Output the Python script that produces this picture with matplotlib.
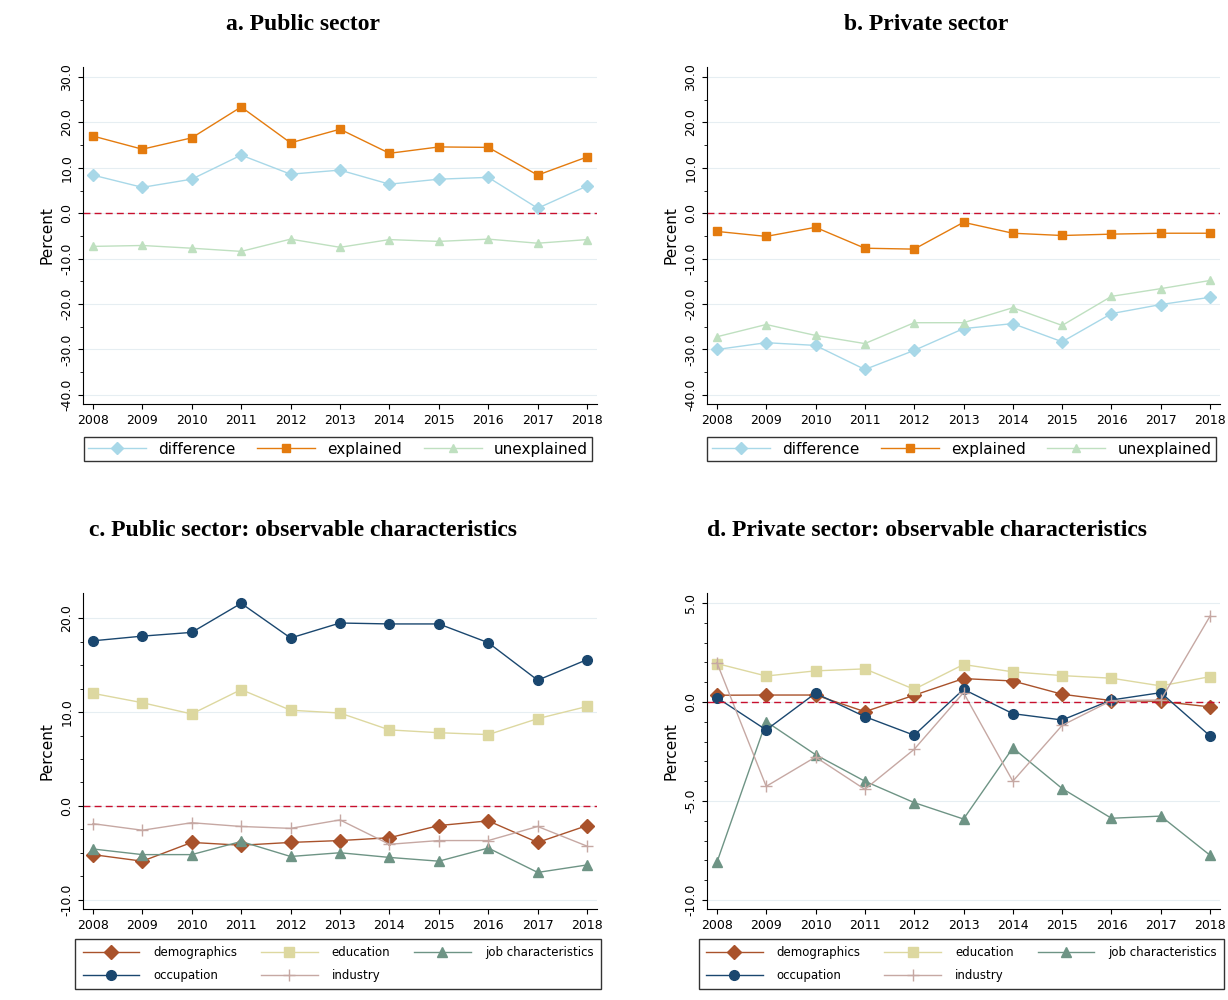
import matplotlib
matplotlib.use("Agg")
import matplotlib.pyplot as plt
import numpy as np

years = list(range(2008, 2019))

pub_difference = [8.4, 5.7, 7.5, 12.8, 8.6, 9.5, 6.4, 7.5, 7.9, 1.1, 6.0]
pub_explained = [17.0, 14.1, 16.6, 23.4, 15.5, 18.5, 13.2, 14.6, 14.5, 8.4, 12.4]
pub_unexplained = [-7.3, -7.1, -7.7, -8.4, -5.7, -7.5, -5.8, -6.2, -5.7, -6.6, -5.8]

priv_difference = [-30.0, -28.5, -29.1, -34.4, -30.2, -25.4, -24.3, -28.3, -22.1, -20.1, -18.5]
priv_explained = [-4.0, -5.1, -3.1, -7.7, -7.9, -2.0, -4.4, -4.9, -4.6, -4.4, -4.4]
priv_unexplained = [-27.2, -24.5, -26.9, -28.7, -24.1, -24.1, -20.8, -24.7, -18.3, -16.6, -14.8]

pubc_demographics = [-5.2, -5.9, -3.9, -4.2, -3.9, -3.7, -3.4, -2.1, -1.6, -3.9, -2.1]
pubc_education = [12.0, 11.0, 9.8, 12.4, 10.2, 9.9, 8.1, 7.8, 7.6, 9.3, 10.6]
pubc_job = [-4.6, -5.2, -5.2, -3.8, -5.4, -5.0, -5.5, -5.9, -4.5, -7.1, -6.3]
pubc_occupation = [17.6, 18.1, 18.5, 21.6, 17.9, 19.5, 19.4, 19.4, 17.4, 13.4, 15.6]
pubc_industry = [-1.9, -2.6, -1.8, -2.2, -2.4, -1.5, -4.1, -3.7, -3.7, -2.2, -4.3]

privc_demographics = [0.34, 0.35, 0.35, -0.49, 0.34, 1.18, 1.06, 0.39, 0.07, 0.03, -0.25]
privc_education = [1.94, 1.31, 1.57, 1.67, 0.64, 1.89, 1.52, 1.33, 1.2, 0.81, 1.28]
privc_job = [-8.1, -0.99, -2.66, -4.0, -5.08, -5.91, -2.32, -4.37, -5.87, -5.76, -7.74]
privc_occupation = [0.22, -1.41, 0.44, -0.74, -1.68, 0.64, -0.59, -0.91, 0.1, 0.47, -1.72]
privc_industry = [1.99, -4.26, -2.78, -4.41, -2.39, 0.47, -4.0, -1.18, 0.07, 0.1, 4.34]

W, H = 1228, 1000
fig = plt.figure(figsize=(12.28, 10), dpi=100)

def ax_px(l, r, t, b):
    return fig.add_axes([l / W, 1 - b / H, (r - l) / W, (b - t) / H])

def style(ax, ylim, ticks, minor):
    ax.set_xlim(2007.8, 2018.2)
    ax.set_ylim(*ylim)
    ax.set_xticks(years)
    ax.set_xticklabels([str(y) for y in years], fontsize=9)
    ax.set_yticks(ticks)
    ax.set_yticklabels(["%.1f" % t for t in ticks], rotation=90, va="center", fontsize=9)
    ax.set_yticks(minor, minor=True)
    ax.grid(axis="y", which="major", color="#e6eef2", lw=0.8)
    ax.set_axisbelow(True)
    for s in ["top", "right"]:
        ax.spines[s].set_visible(False)
    ax.axhline(0, color="#c8102e", ls=(0, (5, 3)), lw=1.0)
    ax.set_ylabel("Percent", fontsize=11)

titlefont = dict(family="Liberation Serif", fontweight="bold", fontsize=17)

def top_panel(l, r, title, d, e, u):
    ax = ax_px(l, r, 67, 404)
    ax.plot(years, d, color="#a8d8e8", marker="D", ms=6, lw=1.0, label="difference")
    ax.plot(years, e, color="#e47b0e", marker="s", ms=6, lw=1.0, label="explained")
    ax.plot(years, u, color="#bfe0c0", marker="^", ms=6, lw=1.0, label="unexplained")
    style(ax, (-42, 32.2), np.arange(-40, 31, 10), np.arange(-40, 31, 5))
    fig.text((l + r) / 2 / W - 0.03, 1 - 25 / H, title, ha="center", va="center", **titlefont)
    cx = ((l + r) / 2 - 2) / W
    ax.legend(loc="center", bbox_to_anchor=(cx, 1 - 449 / H), bbox_transform=fig.transFigure,
              ncol=3, fontsize=11, frameon=True, fancybox=False, edgecolor="black",
              handlelength=3.8, columnspacing=1.4, borderpad=0.3, handletextpad=0.8)

def bottom_panel(l, r, title, series, ylim, ticks, minor):
    ax = ax_px(l, r, 593, 909)
    dem, edu, job, occ, ind = series
    ax.plot(years, dem, color="#a9522b", marker="D", ms=7, lw=1.0, label="demographics")
    ax.plot(years, edu, color="#ddd8a0", marker="s", ms=7, lw=1.0, label="education")
    ax.plot(years, job, color="#6e9485", marker="^", ms=7, lw=1.0, label="job characteristics")
    ax.plot(years, occ, color="#1a476f", marker="o", ms=7, lw=1.0, label="occupation")
    ax.plot(years, ind, color="#c6a8a3", marker="+", ms=8, lw=1.0, label="industry")
    style(ax, ylim, ticks, minor)
    fig.text((l + r) / 2 / W - 0.03, 1 - 531 / H, title, ha="center", va="center", **titlefont)
    cx = ((l + r) / 2 - 2) / W
    h, lab = ax.get_legend_handles_labels()
    order = [0, 3, 1, 4, 2]
    ax.legend([h[i] for i in order], [lab[i] for i in order], loc="center",
              bbox_to_anchor=(cx, 1 - 964 / H), bbox_transform=fig.transFigure,
              ncol=3, fontsize=8.5, frameon=True, fancybox=False, edgecolor="black",
              handlelength=4.8, columnspacing=2.0, borderpad=0.6, labelspacing=0.8,
              handletextpad=1.2)

top_panel(83, 597, "a. Public sector", pub_difference, pub_explained, pub_unexplained)
top_panel(707, 1220, "b. Private sector", priv_difference, priv_explained, priv_unexplained)
bottom_panel(83, 597, "c. Public sector: observable characteristics",
             [pubc_demographics, pubc_education, pubc_job, pubc_occupation, pubc_industry],
             (-11, 22.7), [-10, 0, 10, 20], np.arange(-10, 21, 2.5))
bottom_panel(707, 1220, "d. Private sector: observable characteristics",
             [privc_demographics, privc_education, privc_job, privc_occupation, privc_industry],
             (-10.45, 5.5), [-10, -5, 0, 5], np.arange(-10, 5.1, 1))

fig.savefig("out.png", dpi=100, facecolor="white")
